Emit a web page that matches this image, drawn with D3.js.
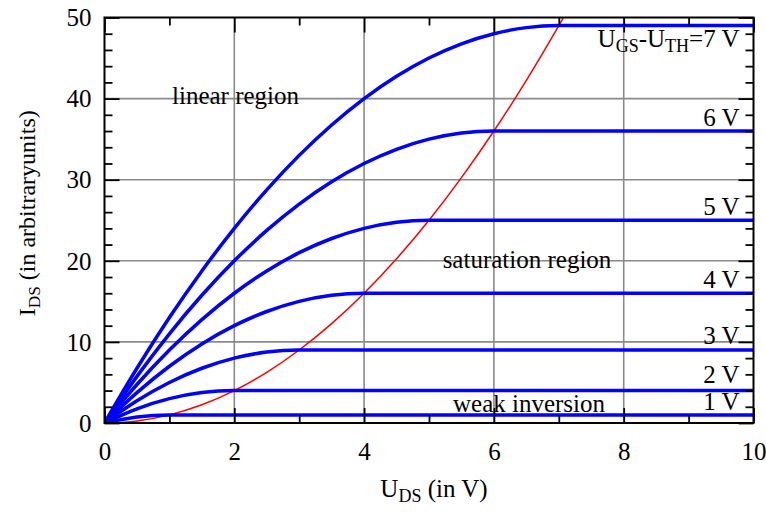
<!DOCTYPE html>
<html><head><meta charset="utf-8">
<script src="https://cdn.jsdelivr.net/npm/d3@7"></script>
</head><body style="margin:0"><svg id="c" width="766" height="514" font-family="Liberation Serif"></svg>
<script>
// ---- data ----
const uds = [0,0.5,1,1.5,2,2.5,3,3.5,4,4.5,5,5.5,6,6.5,7,10];
const ids1V = [0,0.75,1,1,1,1,1,1,1,1,1,1,1,1,1,1];
const ids2V = [0,1.75,3,3.75,4,4,4,4,4,4,4,4,4,4,4,4];
const ids3V = [0,2.75,5,6.75,8,8.75,9,9,9,9,9,9,9,9,9,9];
const ids4V = [0,3.75,7,9.75,12,13.75,15,15.75,16,16,16,16,16,16,16,16];
const ids5V = [0,4.75,9,12.75,16,18.75,21,22.75,24,24.75,25,25,25,25,25,25];
const ids6V = [0,5.75,11,15.75,20,23.75,27,29.75,32,33.75,35,35.75,36,36,36,36];
const ids7V = [0,6.75,13,18.75,24,28.75,33,36.75,40,42.75,45,46.75,48,48.75,49,49];
const udsSat = [0,0.5,1,1.5,2,2.5,3,3.5,4,4.5,5,5.5,6,6.5,7,7.1];
const idsSat = [0,0.25,1,2.25,4,6.25,9,12.25,16,20.25,25,30.25,36,42.25,49,50.4];
const curveLabels = ["1 V","2 V","3 V","4 V","5 V","6 V","7 V"];
const xMajor = [0,2,4,6,8,10], xMinor = [1,3,5,7,9];
const yMajor = [0,10,20,30,40,50], yMinor = [2,4,6,8,12,14,16,18,22,24,26,28,32,34,36,38,42,44,46,48];
const regionLabels = [
  {t:"linear region", x:1.04, y:39.3},
  {t:"saturation region", x:5.21, y:19.1},
  {t:"weak inversion", x:5.37, y:1.36}
];
const labelY = [1.6, 4.9, 9.7, 16.6, 25.6, 36.6, 46.4];

// ---- drawing ----
const FONT = "Liberation Serif";
const svg = d3.select("#c");
const L=104.5, R=753.5, T=17.5, B=423;
const x = d3.scaleLinear([0,10],[L,R]);
const y = d3.scaleLinear([0,50],[B,T]);
const fs = 25;
function txt(sel){ return sel.append("text").attr("font-family",FONT).attr("font-size",fs).attr("fill","#000"); }

svg.append("clipPath").attr("id","clip").append("rect").attr("x",L).attr("y",T).attr("width",R-L).attr("height",B-T);

const grid = svg.append("g").attr("stroke","#8a8a8a").attr("stroke-width",1.6);
grid.selectAll("line.gx").data([2,4,6,8]).join("line").attr("class","gx")
  .attr("x1",d=>x(d)).attr("x2",d=>x(d)).attr("y1",T).attr("y2",B);
grid.selectAll("line.gy").data([10,20,30,40]).join("line").attr("class","gy")
  .attr("y1",d=>y(d)).attr("y2",d=>y(d)).attr("x1",L).attr("x2",R);

regionLabels.forEach(r=>{ txt(svg).attr("x",x(r.x)).attr("y",y(r.y)).text(r.t); });

const plot = svg.append("g").attr("clip-path","url(#clip)");
const line = d3.line().curve(d3.curveMonotoneX);
plot.append("path").attr("d", line(udsSat.map((u,i)=>[x(u),y(idsSat[i])])))
  .attr("fill","none").attr("stroke","#ff0000").attr("stroke-width",1.5);
[ids1V,ids2V,ids3V,ids4V,ids5V,ids6V,ids7V].forEach(s=>{
  plot.append("path").attr("d", line(uds.map((u,i)=>[x(u),y(s[i])])))
    .attr("fill","none").attr("stroke","#0000ff").attr("stroke-width",3.5);
});

curveLabels.forEach((t,i)=>{
  const tx = txt(svg).attr("x",R-14).attr("y",y(labelY[i])).attr("text-anchor","end");
  if(i===6){
    tx.append("tspan").text("U");
    tx.append("tspan").attr("dy",5).attr("font-size",fs*0.72).text("GS");
    tx.append("tspan").attr("dy",-5).text("-U");
    tx.append("tspan").attr("dy",5).attr("font-size",fs*0.72).text("TH");
    tx.append("tspan").attr("dy",-5).text("=7 V");
  } else tx.text(t);
});

function tickAxis(gen, vals, size, tr){
  const g = svg.append("g").attr("transform",tr).call(gen.tickValues(vals).tickSize(size).tickFormat(""));
  g.attr("font-family",null).select(".domain").remove();
  g.selectAll("text").remove();
  g.selectAll("line").attr("stroke","#000").attr("stroke-width",1.8);
  return g;
}
tickAxis(d3.axisBottom(x), xMajor, -15, `translate(0,${B})`);
tickAxis(d3.axisBottom(x), xMinor, -8, `translate(0,${B})`);
tickAxis(d3.axisTop(x), xMajor, -15, `translate(0,${T})`);
tickAxis(d3.axisTop(x), xMinor, -8, `translate(0,${T})`);
tickAxis(d3.axisLeft(y), yMajor, -15, `translate(${L},0)`);
tickAxis(d3.axisLeft(y), yMinor, -8, `translate(${L},0)`);
tickAxis(d3.axisRight(y), yMajor, -15, `translate(${R},0)`);
tickAxis(d3.axisRight(y), yMinor, -8, `translate(${R},0)`);

const xl = svg.append("g").attr("transform",`translate(0,${B})`)
  .call(d3.axisBottom(x).tickValues(xMajor).tickSize(0).tickPadding(0).tickFormat(d3.format("d")));
xl.attr("font-family",FONT).attr("font-size",fs).select(".domain").remove();
xl.selectAll("text").attr("font-family",FONT).attr("font-size",fs).attr("dy",null).attr("y",37);
const yl = svg.append("g").attr("transform",`translate(${L},0)`)
  .call(d3.axisLeft(y).tickValues(yMajor).tickSize(0).tickPadding(0).tickFormat(d3.format("d")));
yl.attr("font-family",FONT).attr("font-size",fs).select(".domain").remove();
yl.selectAll("text").attr("font-family",FONT).attr("font-size",fs).attr("x",-13).attr("dy","0.33em");

svg.append("rect").attr("x",L).attr("y",T).attr("width",R-L).attr("height",B-T)
  .attr("fill","none").attr("stroke","#000").attr("stroke-width",2);

const xt = txt(svg).attr("x",(L+R)/2+5).attr("y",497).attr("text-anchor","middle");
xt.append("tspan").text("U");
xt.append("tspan").attr("dy",5).attr("font-size",fs*0.72).text("DS");
xt.append("tspan").attr("dy",-5).text(" (in V)");
const yt = txt(svg).attr("transform",`translate(35,${(T+B)/2-7}) rotate(-90)`).attr("text-anchor","middle").attr("font-size",24);
yt.append("tspan").text("I");
yt.append("tspan").attr("dy",5).attr("font-size",24*0.72).text("DS");
yt.append("tspan").attr("dy",-5).text(" (in arbitraryunits)");
</script></body></html>
